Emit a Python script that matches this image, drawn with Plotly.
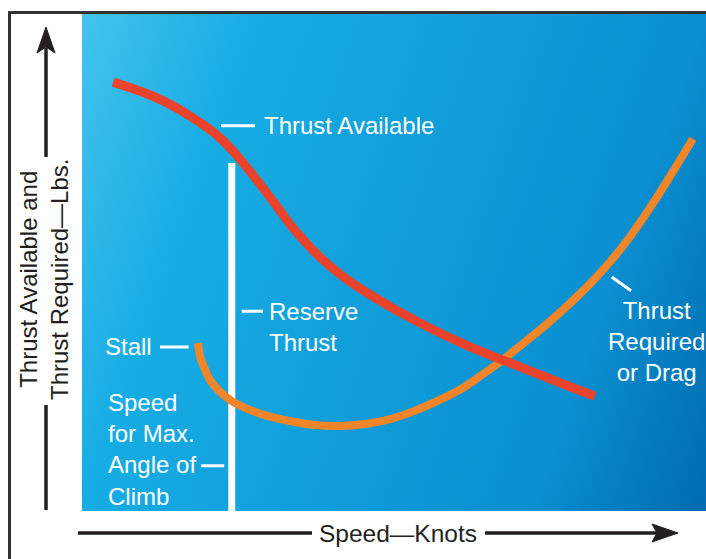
import base64
import plotly.graph_objects as go

# Curva de empuxo disponível (vermelha) - velocidade x empuxo, unidades relativas 0-100
speed_available = [5.0, 10.9, 15.7, 22.1, 26.1, 30.1, 34.1, 38.1, 42.1, 46.2, 54.2, 62.2, 70.2, 76.6, 82.2]
thrust_available = [86.3, 83.7, 80.7, 75.1, 69.6, 63.2, 56.5, 51.1, 46.9, 43.5, 37.8, 33.0, 29.0, 25.8, 23.1]

# Curva de empuxo requerido / arrasto (laranja)
speed_required = [18.6, 18.9, 19.6, 20.5, 22.1, 24.0, 26.6, 29.3, 33.3, 37.3, 41.3, 45.3, 49.4,
                  53.4, 57.4, 61.1, 64.0, 67.0, 70.2, 74.2, 77.7, 81.4, 84.6, 87.0, 89.4, 91.8, 95.0, 97.9]
thrust_required = [33.8, 31.2, 28.8, 26.4, 24.0, 22.1, 20.5, 19.3, 18.1, 17.3, 17.1, 17.5, 18.5,
                   20.2, 22.4, 24.8, 27.3, 30.0, 33.2, 37.3, 41.2, 45.7, 50.1, 53.8, 58.0, 62.5, 68.9, 74.9]

# Velocidade de máximo ângulo de subida (linha branca)
climb_speed = [24.0, 24.0]
climb_thrust = [0.0, 70.0]

# Caixa da área do gráfico em pixels
W, H = 706, 559
L, T, PW, PH = 82, 14, 624, 497


def px(x):
    return (x - L) / PW


def py(y):
    return (T + PH - y) / PH


FONT = "Liberation Sans, Arial, Helvetica, sans-serif"
DARK = "#231f20"

# Fundo em degradê (svg embutido)
svg = (
    "<svg xmlns='http://www.w3.org/2000/svg' width='624' height='497' viewBox='0 0 624 497' "
    "preserveAspectRatio='none'><defs><linearGradient id='g' gradientUnits='userSpaceOnUse' "
    "x1='0' y1='0' x2='711' y2='249'>"
    "<stop offset='0' stop-color='#44c3ed'/>"
    "<stop offset='0.22' stop-color='#17ace4'/>"
    "<stop offset='0.78' stop-color='#0a8fd0'/>"
    "<stop offset='1' stop-color='#006bae'/>"
    "</linearGradient></defs><rect width='624' height='497' fill='url(#g)'/></svg>"
)
bg_uri = "data:image/svg+xml;base64," + base64.b64encode(svg.encode()).decode()

fig = go.Figure()

fig.add_trace(go.Scatter(
    x=climb_speed, y=climb_thrust, mode="lines",
    line=dict(color="white", width=7), hoverinfo="skip"
))
fig.add_trace(go.Scatter(
    x=speed_required, y=thrust_required, mode="lines",
    line=dict(color="#f0852a", width=8, shape="spline", smoothing=0.8), hoverinfo="skip"
))
fig.add_trace(go.Scatter(
    x=speed_available, y=thrust_available, mode="lines",
    line=dict(color="#e9432b", width=9, shape="spline", smoothing=1.0), hoverinfo="skip"
))

shapes = []
# moldura
shapes.append(dict(type="rect", xref="paper", yref="paper",
                   x0=px(9.5), x1=px(720), y0=py(580), y1=py(12.5),
                   line=dict(color="#333333", width=3), layer="above"))
# eixo y (seta) - duas partes
shapes.append(dict(type="line", xref="paper", yref="paper",
                   x0=px(46), x1=px(46), y0=py(48), y1=py(157),
                   line=dict(color=DARK, width=3.5)))
shapes.append(dict(type="line", xref="paper", yref="paper",
                   x0=px(46), x1=px(46), y0=py(405), y1=py(510),
                   line=dict(color=DARK, width=3.5)))
shapes.append(dict(type="path", xref="paper", yref="paper",
                   path=f"M{px(46)},{py(27)} L{px(55)},{py(53)} L{px(46)},{py(47)} L{px(37)},{py(53)} Z",
                   fillcolor=DARK, line=dict(color=DARK, width=1)))
# eixo x (seta)
shapes.append(dict(type="line", xref="paper", yref="paper",
                   x0=px(78), x1=px(312), y0=py(533), y1=py(533),
                   line=dict(color=DARK, width=3.5)))
shapes.append(dict(type="line", xref="paper", yref="paper",
                   x0=px(485), x1=px(660), y0=py(533), y1=py(533),
                   line=dict(color=DARK, width=3.5)))
shapes.append(dict(type="path", xref="paper", yref="paper",
                   path=f"M{px(678)},{py(533)} L{px(652)},{py(542)} L{px(657)},{py(533)} L{px(652)},{py(524)} Z",
                   fillcolor=DARK, line=dict(color=DARK, width=1)))

# traços dos rótulos (unidades dos eixos)
dashes = [
    (22.3, 27.7, 77.5, 77.5),   # Thrust Available
    (25.6, 29.0, 40.2, 40.2),   # Reserve Thrust
    (12.5, 17.1, 33.0, 33.0),   # Stall
    (19.1, 22.8, 9.1, 9.1),     # Angle of Climb
    (84.9, 88.0, 47.1, 44.3),   # Thrust Required
]
for x0, x1, y0, y1 in dashes:
    shapes.append(dict(type="line", xref="x", yref="y", x0=x0, x1=x1, y0=y0, y1=y1,
                       line=dict(color="white", width=3)))

white_font = dict(family=FONT, size=24, color="white")
annotations = [
    dict(x=28.8, y=77.5, text="Thrust Available", xanchor="left", yanchor="middle", align="left"),
    dict(x=29.6, y=37.1, text="Reserve<br>Thrust", xanchor="left", yanchor="middle", align="left"),
    dict(x=11.6, y=33.0, text="Stall", xanchor="right", yanchor="middle", align="right"),
    dict(x=3.9, y=12.3, text="Speed<br>for Max.<br>Angle of<br>Climb", xanchor="left", yanchor="middle", align="left"),
    dict(x=92.0, y=34.2, text="Thrust<br>Required<br>or Drag", xanchor="center", yanchor="middle", align="center"),
]
for a in annotations:
    a.update(xref="x", yref="y", showarrow=False, font=white_font)

annotations.append(dict(
    xref="paper", yref="paper", x=px(398), y=py(533), text="Speed\u2014Knots",
    showarrow=False, xanchor="center", yanchor="middle",
    font=dict(family=FONT, size=24.5, color=DARK)
))
annotations.append(dict(
    xref="paper", yref="paper", x=px(44), y=py(280),
    text="Thrust Available and<br>Thrust Required\u2014Lbs.",
    showarrow=False, xanchor="center", yanchor="middle", align="center", textangle=-90,
    font=dict(family=FONT, size=24, color=DARK)
))

fig.update_layout(
    width=W, height=H,
    margin=dict(l=L, r=W - L - PW, t=T, b=H - T - PH, pad=0),
    paper_bgcolor="white",
    plot_bgcolor="#0a9ad6",
    showlegend=False,
    xaxis=dict(range=[0, 100], visible=False, showgrid=False, zeroline=False),
    yaxis=dict(range=[0, 100], visible=False, showgrid=False, zeroline=False),
    images=[dict(source=bg_uri, xref="paper", yref="paper", x=0, y=1, sizex=1, sizey=1,
                 xanchor="left", yanchor="top", sizing="stretch", layer="below")],
    shapes=shapes,
    annotations=annotations,
)

# sem margem na página, para a figura ocupar a janela inteira
fig.write_html("out.html", config={"displayModeBar": False},
               post_script="document.body.style.margin='0';document.body.style.overflow='hidden';")
